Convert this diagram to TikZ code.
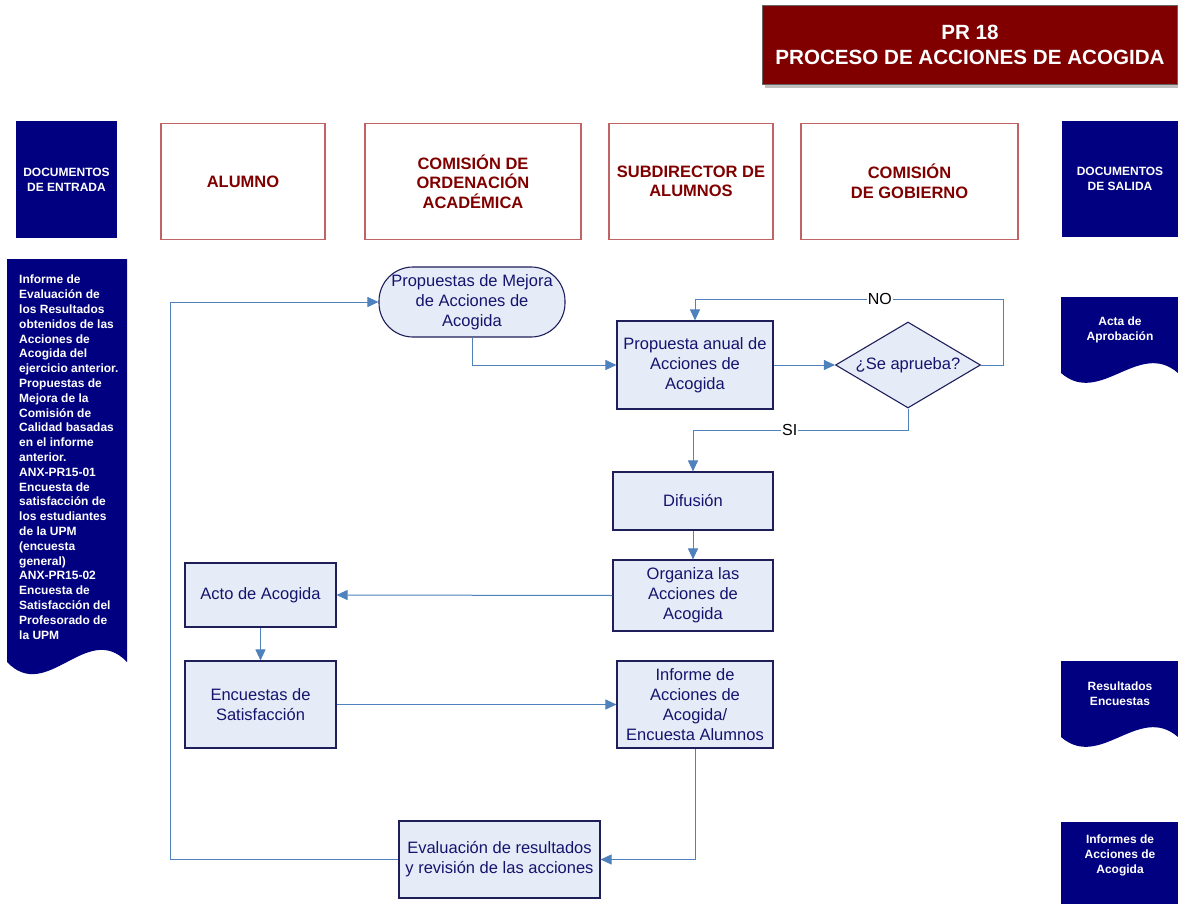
\documentclass[tikz,border=0pt]{standalone}
\usepackage{fontspec}
\setmainfont{Liberation Sans}
\usetikzlibrary{arrows.meta,shapes.geometric}

\definecolor{docblue}{RGB}{0,0,128}
\definecolor{titlered}{RGB}{128,0,0}
\definecolor{lanered}{RGB}{190,100,100}
\definecolor{boxfill}{RGB}{230,236,247}
\definecolor{boxline}{RGB}{30,30,90}
\definecolor{boxtext}{RGB}{20,20,110}
\definecolor{flowline}{RGB}{79,129,189}

\begin{document}
\begin{tikzpicture}[x=1pt,y=-1pt,
    proc/.style={draw=boxline,fill=boxfill,line width=1.1pt,inner sep=0pt,align=center,
      text=boxtext,font=\fontsize{16.5}{20}\selectfont},
    lane/.style={draw=lanered,line width=1.1pt,inner sep=0pt,align=center,text=titlered,
      font=\bfseries\fontsize{16.5}{19.5}\selectfont,minimum width=164pt,minimum height=116pt},
    doctext/.style={text=white,inner sep=0pt,align=center,font=\bfseries\fontsize{12}{15}\selectfont},
    flow/.style={draw=flowline,line width=1pt,-{Triangle[length=11pt,width=10pt]}},
    lbl/.style={fill=white,inner sep=1pt,text=black,font=\fontsize{16}{18}\selectfont}]
    \useasboundingbox (0,0) rectangle (1178,904);

    % title
    \fill[black!25] (765,9) rectangle (1180,88);
    \node[draw=black!60,fill=titlered,minimum width=415pt,minimum height=79pt,inner sep=0pt,
      text=white,align=center,font=\bfseries\fontsize{20.6}{25}\selectfont] (title) at (970,45)
      {PR 18\\PROCESO DE ACCIONES DE ACOGIDA};

    % entry and exit headers
    \fill[docblue] (16,121) rectangle (117,238);
    \node[doctext] (entrada) at (66.5,179.5) {DOCUMENTOS\\DE ENTRADA};
    \fill[docblue] (1062,121) rectangle (1178,237);
    \node[doctext] (salida) at (1120,179) {DOCUMENTOS\\DE SALIDA};

    % lanes
    \node[lane] (alumno) at (243,181.5) {ALUMNO};
    \node[lane,minimum width=216pt] (coa) at (473,181.5) {COMISIÓN DE\\ORDENACIÓN\\ACADÉMICA};
    \node[lane] (subdir) at (691,181.5) {SUBDIRECTOR DE\\ALUMNOS};
    \node[lane,minimum width=217pt] (gobierno) at (909.5,181.5) {COMISIÓN\\DE GOBIERNO};

    % documents
    \fill[docblue] (7,259) -- (127,259) -- (127,662)
      .. controls (87,620) and (47,704) .. (7,662) -- cycle;
    \node[doctext,align=left,anchor=north west,font=\bfseries\fontsize{12}{14.8}\selectfont] (docin) at (19,275)
      {Informe de\\Evaluación de\\los Resultados\\obtenidos de las\\Acciones de\\Acogida del\\ejercicio anterior.\\
       Propuestas de\\Mejora de la\\Comisión de\\Calidad basadas\\en el informe\\anterior.\\ANX-PR15-01\\
       Encuesta de\\satisfacción de\\los estudiantes\\de la UPM\\(encuesta\\general)\\ANX-PR15-02\\
       Encuesta de\\Satisfacción del\\Profesorado de\\la UPM};
    \fill[docblue] (1061,297) -- (1178,297) -- (1178,373)
      .. controls (1139,339) and (1100,407) .. (1061,373) -- cycle;
    \node[doctext] (acta) at (1120,330) {Acta de\\Aprobación};
    \fill[docblue] (1061,661) -- (1178,661) -- (1178,737)
      .. controls (1139,703) and (1100,771) .. (1061,737) -- cycle;
    \node[doctext] (resultados) at (1120,694) {Resultados\\Encuestas};
    \fill[docblue] (1061,822) -- (1178,822) -- (1178,904) -- (1061,904) -- cycle;
    \node[doctext] (informes) at (1120,855) {Informes de\\Acciones de\\Acogida};

    % process boxes
    \node[proc,rounded corners=34pt,minimum width=186pt,minimum height=70pt] (mejora) at (472,302)
      {Propuestas de Mejora\\de Acciones de\\Acogida};
    \node[proc,minimum width=156pt,minimum height=88pt] (anual) at (695,365)
      {Propuesta anual de\\Acciones de\\Acogida};
    \node[proc,shape=diamond,aspect=1.69,minimum width=145pt,minimum height=86pt] (aprueba) at (908,365)
      {¿Se aprueba?};
    \node[proc,minimum width=160pt,minimum height=58pt] (difusion) at (693,501) {Difusión};
    \node[proc,minimum width=160pt,minimum height=71pt] (organiza) at (693,595.5)
      {Organiza las\\Acciones de\\Acogida};
    \node[proc,minimum width=151pt,minimum height=64pt] (acto) at (260.5,595) {Acto de Acogida};
    \node[proc,minimum width=151pt,minimum height=87pt] (encuestas) at (260.5,704.5)
      {Encuestas de\\Satisfacción};
    \node[proc,minimum width=156pt,minimum height=87pt] (informe) at (695,704.5)
      {Informe de\\Acciones de\\Acogida/\\Encuesta Alumnos};
    \node[proc,minimum width=201pt,minimum height=77pt] (evalua) at (499.5,859.5)
      {Evaluación de resultados\\y revisión de las acciones};

    % connectors
    \coordinate (noturn) at (1003,299);
    \coordinate (siturn) at (693,430);
    \coordinate (backturn) at (170,302);
    \draw[flow] (mejora.south) |- (anual.west);
    \draw[flow] (anual) -- (aprueba);
    \draw[flow] (aprueba.east) -| (noturn) -- node[lbl,pos=0.4]{NO} (anual.north |- noturn) -- (anual.north);
    \draw[flow] (aprueba.south) -- (aprueba.south |- siturn) -- node[lbl,pos=0.55]{SI} (siturn) -- (difusion.north);
    \draw[flow] (difusion) -- (organiza);
    \draw[flow] (organiza.west) -- (acto.east);
    \draw[flow] (acto) -- (encuestas);
    \draw[flow] (encuestas.east) -- (informe.west);
    \draw[flow] (informe.south) |- (evalua.east);
    \draw[flow] (evalua.west) -| (backturn) -- (mejora.west);
\end{tikzpicture}
\end{document}
